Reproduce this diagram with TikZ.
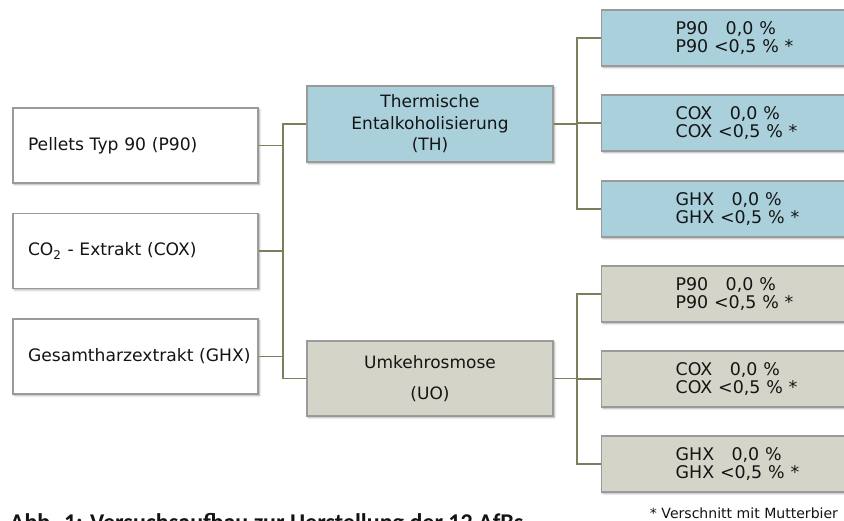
\documentclass[tikz,border=0pt]{standalone}
\usepackage{fontspec}
\setmainfont{DejaVu Sans}
\newfontfamily\captionfont{Carlito}
\usetikzlibrary{positioning, calc, shadows.blur}
\definecolor{thblue}{HTML}{A9D0DB}
\definecolor{uogray}{HTML}{D4D4C8}
\definecolor{boxline}{HTML}{9A9A9A}
\definecolor{linkolive}{HTML}{7E7E5F}
\definecolor{textdark}{HTML}{141414}

\begin{document}
\begin{tikzpicture}[
    every node/.style={text=textdark},
    box/.style={draw=boxline, line width=0.9pt,
                blur shadow={shadow blur steps=5, shadow xshift=1pt, shadow yshift=-1pt, shadow blur radius=1.5pt, shadow opacity=35}},
    source/.style={box, fill=white, minimum width=6.125cm, minimum height=1.875cm, inner xsep=0.375cm,
                   text width=5.375cm, align=left, font=\fontsize{12.2}{14}\selectfont},
    process/.style={box, fill=#1, minimum width=6.15cm, minimum height=1.9cm, align=center,
                    font=\fontsize{12.1}{15.3}\selectfont},
    result/.style={box, fill=#1, anchor=west, minimum height=1.4cm, inner xsep=1.85cm, text width=4.25cm,
                   align=left, font=\fontsize{12.4}{12.4}\selectfont},
    link/.style={draw=linkolive, line width=1.4pt},
]

% Frame
\useasboundingbox (0,0) rectangle (21.1,-13.025);

% === Hopfenprodukte ===
\node[source] (p90) at (3.3875, -3.6375) {Pellets~Typ~90~(P90)};
\node[source] (cox) at (3.3875, -6.275) {CO\textsubscript{2}~-~Extrakt~(COX)};
\node[source] (ghx) at (3.3875, -8.9125) {Gesamtharzextrakt~(GHX)};

% === Verfahren ===
\node[process=thblue] (th) at (10.75, -3.1) {Thermische\\Entalkoholisierung\\(TH)};
\node[process=uogray, minimum height=1.875cm] (uo) at (10.75, -9.4625) {Umkehrosmose\\[6.5pt](UO)};

% === Ergebnisse TH ===
\node[result=thblue] (th1) at (15.025, -0.95) {P90\ \ \ 0,0 \%\\P90 <0,5 \% *};
\node[result=thblue] (th2) at (15.025, -3.075) {COX\ \ \ 0,0 \%\\COX <0,5 \% *};
\node[result=thblue] (th3) at (15.025, -5.225) {GHX\ \ \ 0,0 \%\\GHX <0,5 \% *};

% === Ergebnisse UO ===
\node[result=uogray] (uo1) at (15.025, -7.35) {P90\ \ \ 0,0 \%\\P90 <0,5 \% *};
\node[result=uogray] (uo2) at (15.025, -9.475) {COX\ \ \ 0,0 \%\\COX <0,5 \% *};
\node[result=uogray] (uo3) at (15.025, -11.6) {GHX\ \ \ 0,0 \%\\GHX <0,5 \% *};

% === Verbindungen ===
\coordinate (lbus) at (7.075, 0);
\coordinate (rbus) at (14.425, 0);
\foreach \s in {p90, cox, ghx} {
    \draw[link] (\s.east) -- (\s.east -| lbus);
}
\draw[link] (th.west) -- (th.west -| lbus) -- (uo.west -| lbus) -- (uo.west);
\foreach \p in {th, uo} {
    \draw[link] (\p.east) -- (\p.east -| rbus);
    \draw[link] (\p1.west) -- (\p1.west -| rbus) -- (\p3.west -| rbus) -- (\p3.west);
    \draw[link] (\p2.west) -- (\p2.west -| rbus);
}

% === Fussnote und Bildunterschrift ===
\node[anchor=base east, font=\fontsize{10}{12}\selectfont] (note) at (21.075, -12.95) {* Verschnitt mit Mutterbier};
\node[anchor=base west, font=\captionfont\bfseries\fontsize{17.1}{20}\selectfont] (caption) at (0.125, -13.25)
      {Abb. 1: Versuchsaufbau zur Herstellung der 12 AfBs};

\end{tikzpicture}
\end{document}
